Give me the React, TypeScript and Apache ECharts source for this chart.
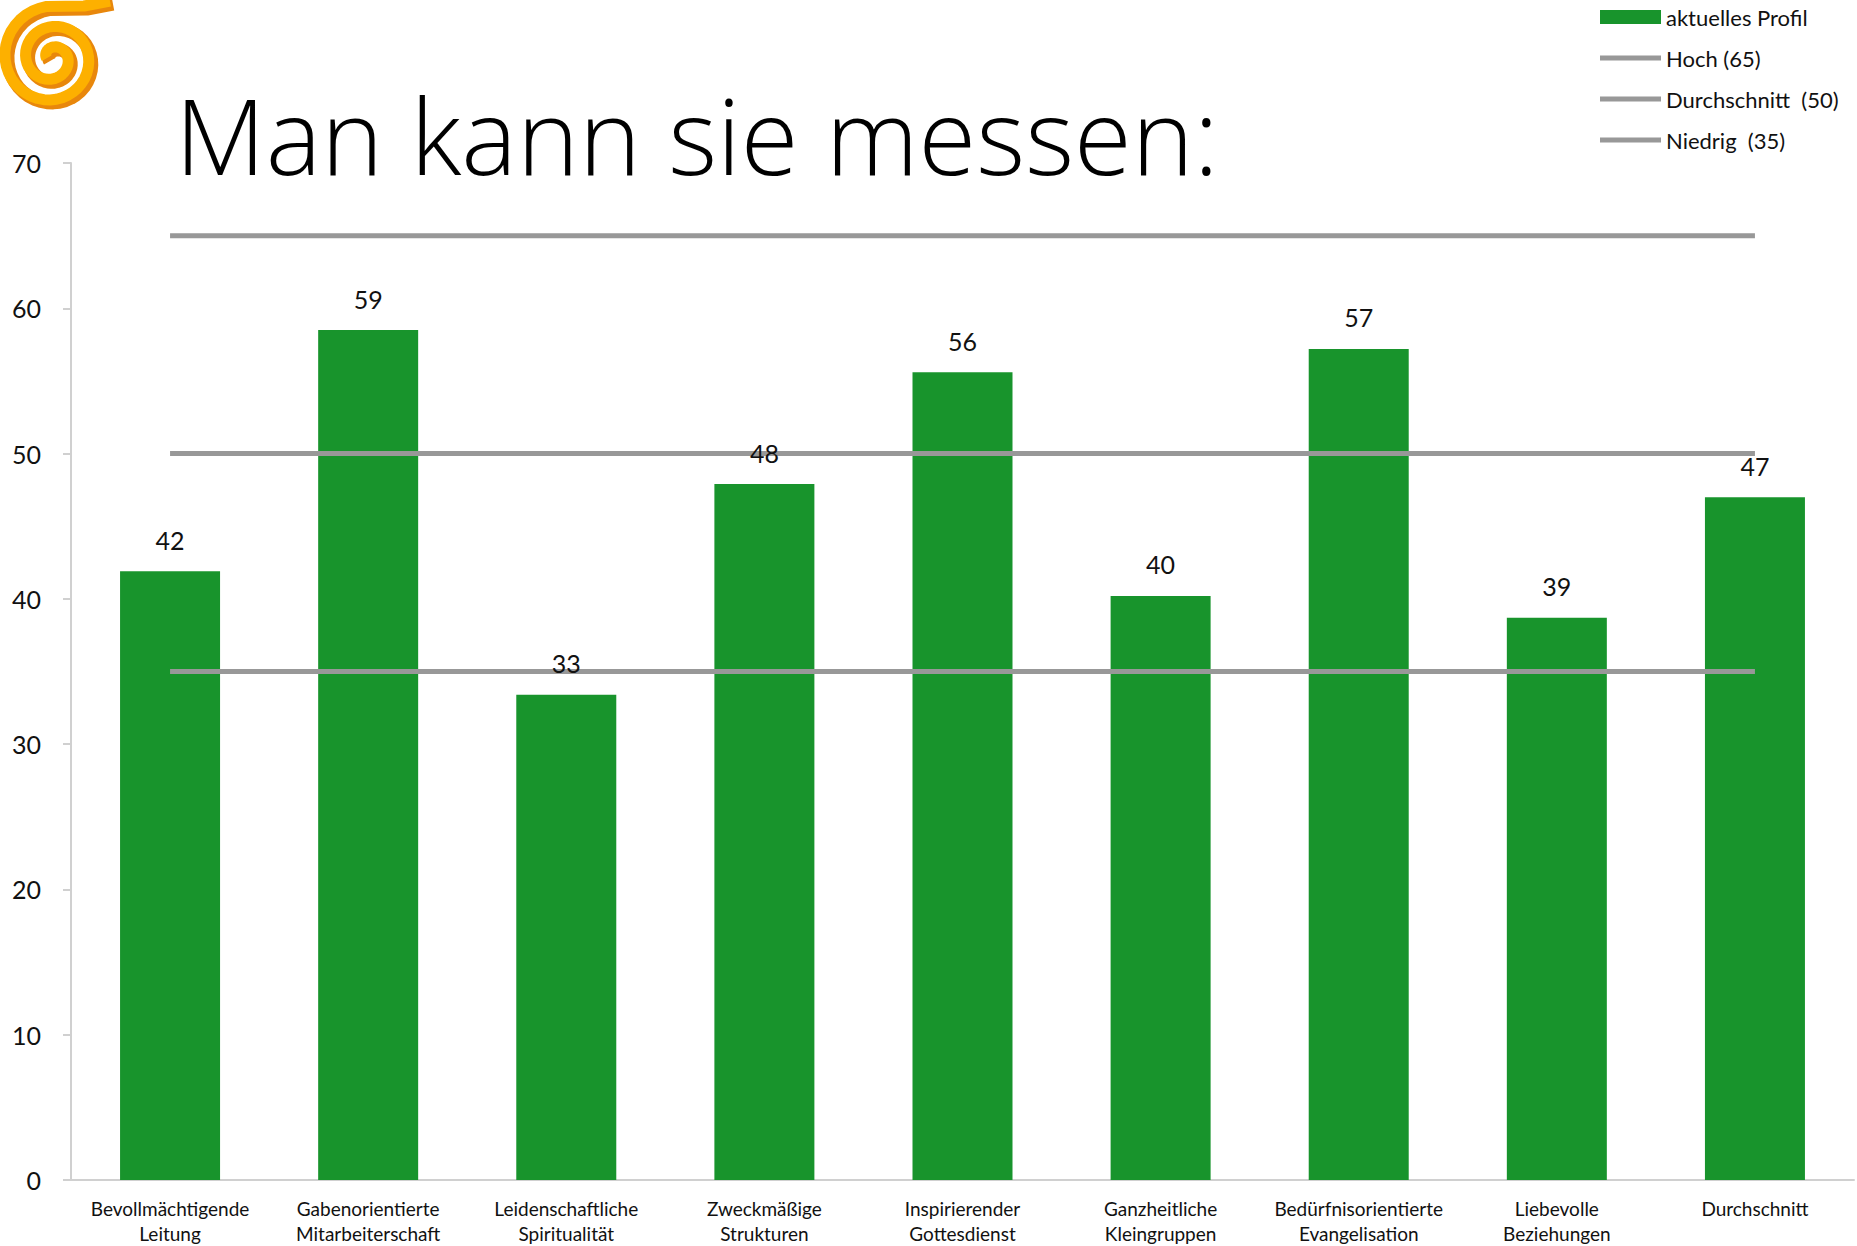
import React, { useEffect, useRef } from "react";
import * as echarts from "echarts";

const categories = [
  "Bevollmächtigende\nLeitung",
  "Gabenorientierte\nMitarbeiterschaft",
  "Leidenschaftliche\nSpiritualität",
  "Zweckmäßige\nStrukturen",
  "Inspirierender\nGottesdienst",
  "Ganzheitliche\nKleingruppen",
  "Bedürfnisorientierte\nEvangelisation",
  "Liebevolle\nBeziehungen",
  "Durchschnitt",
];

const profileValues = [41.9, 58.5, 33.4, 47.9, 55.6, 40.2, 57.2, 38.7, 47.0];
const highValues = [65, 65, 65, 65, 65, 65, 65, 65, 65];
const averageValues = [50, 50, 50, 50, 50, 50, 50, 50, 50];
const lowValues = [35, 35, 35, 35, 35, 35, 35, 35, 35];

const seriesNames = ["aktuelles Profil", "Hoch (65)", "Durchschnitt  (50)", "Niedrig  (35)"];
const titleText = "Man kann sie messen:";

const FONT = "Lato, 'Open Sans', sans-serif";
const TITLE_FONT = "'Open Sans', Lato, sans-serif";
const GREEN = "#18942C";
const GRAY = "#989898";
const AXIS = "#D0D0D0";

function spiralPath(): string {
  const cx = 52;
  const cy = 58;
  const thetaMax = 14.6;
  const pts: string[] = [];
  for (let t = 0.4; t <= thetaMax; t += 0.15) {
    const r = 4 + 3.3 * t;
    const phi = t - thetaMax - Math.PI / 2;
    pts.push(`${(cx + r * Math.cos(phi)).toFixed(2)} ${(cy + r * Math.sin(phi)).toFixed(2)}`);
  }
  return "M " + pts.join(" L ") + " L 84 6 L 110 1";
}

let registered = false;

export default function App() {
  const ref = useRef<HTMLDivElement>(null);
  useEffect(() => {
    if (!ref.current) return;
    if (!registered) {
      echarts.graphic.registerShape("logo", echarts.graphic.extendPath(spiralPath(), {}));
      registered = true;
    }
    const lineIcon = "path://M0 0H61V5H0Z";
    const chart = echarts.init(ref.current, null, { renderer: "svg" });
    chart.setOption({
      animation: false,
      textStyle: { fontFamily: FONT },
      grid: { left: 71, right: 3, top: 163, bottom: 65, containLabel: false },
      legend: {
        left: 1600,
        top: 6,
        padding: 0,
        orient: "vertical",
        itemWidth: 61,
        itemHeight: 14,
        itemGap: 19,
        data: [
          { name: seriesNames[0], icon: "rect" },
          { name: seriesNames[1], icon: lineIcon },
          { name: seriesNames[2], icon: lineIcon },
          { name: seriesNames[3], icon: lineIcon },
        ],
        textStyle: { fontFamily: FONT, fontSize: 22, color: "#111", lineHeight: 22 },
        selectedMode: false,
      },
      graphic: [
        {
          type: "logo",
          x: 3,
          y: 3,
          silent: true,
          style: { fill: "none", stroke: "#E8870C", lineWidth: 13, lineJoin: "round" },
        },
        {
          type: "logo",
          x: 0,
          y: 0,
          silent: true,
          style: { fill: "none", stroke: "#FDB000", lineWidth: 11, lineJoin: "round" },
        },
        {
          type: "text",
          left: 175,
          top: 82,
          silent: true,
          style: {
            text: titleText,
            fontFamily: TITLE_FONT,
            fontWeight: 300,
            fontSize: 105,
            fill: "#000",
          },
        },
      ],
      xAxis: {
        type: "category",
        data: categories,
        axisLine: { lineStyle: { color: AXIS, width: 2 } },
        axisTick: { length: 6, lineStyle: { color: AXIS, width: 2 } },
        axisLabel: {
          fontFamily: FONT,
          fontSize: 19,
          lineHeight: 25,
          color: "#111",
          margin: 16,
          interval: 0,
        },
      },
      yAxis: {
        type: "value",
        min: 0,
        max: 70,
        interval: 10,
        axisLine: { show: true, lineStyle: { color: AXIS, width: 2 } },
        axisTick: { show: true, length: 8, lineStyle: { color: AXIS, width: 2 } },
        splitLine: { show: false },
        axisLabel: { fontFamily: FONT, fontSize: 25, color: "#111", margin: 30 },
      },
      series: [
        {
          name: seriesNames[0],
          type: "bar",
          data: profileValues,
          barWidth: 100,
          itemStyle: { color: GREEN },
          z: 2,
          silent: true,
        },
        {
          name: seriesNames[1],
          type: "line",
          data: highValues,
          symbol: "none",
          lineStyle: { color: GRAY, width: 5 },
          itemStyle: { color: GRAY },
          z: 3,
          silent: true,
        },
        {
          name: seriesNames[2],
          type: "line",
          data: averageValues,
          symbol: "none",
          lineStyle: { color: GRAY, width: 5 },
          itemStyle: { color: GRAY },
          z: 3,
          silent: true,
        },
        {
          name: seriesNames[3],
          type: "line",
          data: lowValues,
          symbol: "none",
          lineStyle: { color: GRAY, width: 5 },
          itemStyle: { color: GRAY },
          z: 3,
          silent: true,
        },
        {
          name: "labels",
          type: "bar",
          data: profileValues,
          barWidth: 100,
          barGap: "-100%",
          itemStyle: { color: "rgba(0,0,0,0)" },
          z: 5,
          silent: true,
          label: {
            show: true,
            position: "top",
            distance: 19,
            fontFamily: FONT,
            fontSize: 25,
            color: "#111",
            formatter: (p: any) => String(Math.round(p.value)),
          },
        },
      ],
    });
    return () => chart.dispose();
  }, []);
  return (
    <div
      ref={ref}
      style={{ position: "fixed", left: 0, top: 0, width: 1857, height: 1246, background: "#fff" }}
    />
  );
}
